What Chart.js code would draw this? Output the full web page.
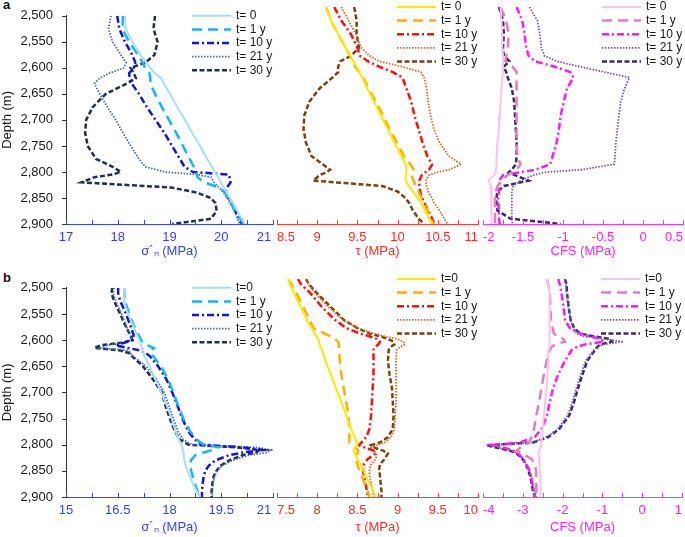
<!DOCTYPE html>
<html>
<head>
<meta charset="utf-8">
<script src="https://cdn.jsdelivr.net/npm/chart.js@4/dist/chart.umd.min.js"></script>
<style>
  html, body { margin: 0; padding: 0; background: #fff; overflow: hidden; }
  body { width: 685px; height: 537px; position: relative; }
  .panel { position: absolute; }
  .tag { position: absolute; left: 3px; font: bold 13px "Liberation Sans", Arial, sans-serif; color: #111; }
</style>
</head>
<body>
<div class="tag" style="top:-3px">a</div>
<div class="tag" style="top:270px">b</div>
<canvas id="a1" class="panel"></canvas>
<canvas id="a2" class="panel"></canvas>
<canvas id="a3" class="panel"></canvas>
<canvas id="b1" class="panel"></canvas>
<canvas id="b2" class="panel"></canvas>
<canvas id="b3" class="panel"></canvas>
<script>
// 깊이 (m)
const depthA = [2500, 2525, 2550, 2575, 2590, 2600, 2610, 2620, 2630, 2650, 2675, 2700, 2725, 2750, 2775, 2790, 2800, 2805, 2810, 2820, 2830, 2840, 2850, 2860, 2875, 2890, 2900];
const depthB = [2500, 2510, 2525, 2550, 2575, 2590, 2600, 2605, 2610, 2615, 2620, 2625, 2630, 2650, 2675, 2700, 2725, 2750, 2775, 2790, 2800, 2805, 2810, 2815, 2820, 2830, 2840, 2850, 2860, 2875, 2890, 2900];

const labelsA = ['t= 0', 't= 1 y', 't= 10 y', 't= 21 y', 't= 30 y'];
const labelsB = ['t=0', 't= 1 y', 't= 10 y', 't= 21 y', 't= 30 y'];

// a: σ'n (MPa)
const sigA0 = [18.14, 18.15, 18.28, 18.44, 18.55, 18.63, 18.71, 18.84, 18.89, 19.01, 19.15, 19.30, 19.44, 19.59, 19.73, 19.82, 19.88, 19.91, 19.94, 19.99, 20.05, 20.11, 20.16, 20.23, 20.31, 20.40, 20.46];
const sigA1 = [18.10, 18.09, 18.22, 18.39, 18.48, 18.53, 18.61, 18.63, 18.63, 18.72, 18.85, 18.99, 19.13, 19.26, 19.39, 19.47, 19.53, 19.53, 19.54, 19.67, 19.96, 20.08, 20.11, 20.18, 20.27, 20.37, 20.43];
const sigA10 = [17.99, 18.03, 18.14, 18.28, 18.34, 18.31, 18.22, 18.23, 18.27, 18.41, 18.56, 18.73, 18.90, 19.05, 19.20, 19.29, 19.45, 20.14, 20.16, 20.18, 20.11, 20.08, 20.15, 20.21, 20.27, 20.35, 20.40];
const sigA21 = [17.87, 17.82, 17.90, 18.06, 18.16, 18.12, 17.84, 17.65, 17.55, 17.65, 17.80, 17.96, 18.10, 18.25, 18.41, 18.53, 18.91, 19.54, 19.80, 19.86, 19.96, 20.05, 20.11, 20.18, 20.25, 20.32, 20.35];
const sigA30 = [18.72, 18.69, 18.77, 18.71, 18.53, 18.25, 18.31, 18.35, 18.18, 17.77, 17.52, 17.39, 17.37, 17.42, 17.58, 17.90, 18.06, 17.90, 17.55, 17.30, 19.04, 19.54, 19.80, 19.89, 19.91, 19.80, 19.05];

// a: τ (MPa)
const tauA0 = [9.11, 9.17, 9.26, 9.35, 9.41, 9.45, 9.49, 9.52, 9.56, 9.62, 9.71, 9.79, 9.88, 9.96, 10.05, 10.10, 10.11, 10.11, 10.10, 10.10, 10.14, 10.19, 10.24, 10.29, 10.34, 10.39, 10.43];
const tauA1 = [9.11, 9.17, 9.26, 9.35, 9.41, 9.44, 9.47, 9.52, 9.57, 9.64, 9.73, 9.82, 9.90, 9.99, 10.08, 10.16, 10.20, 10.19, 10.17, 10.20, 10.22, 10.26, 10.29, 10.33, 10.37, 10.41, 10.45];
const tauA10 = [9.21, 9.30, 9.42, 9.50, 9.53, 9.63, 9.77, 9.94, 10.06, 10.11, 10.17, 10.21, 10.26, 10.31, 10.37, 10.43, 10.39, 10.34, 10.30, 10.27, 10.27, 10.28, 10.30, 10.33, 10.38, 10.43, 10.46];
const tauA21 = [9.30, 9.39, 9.48, 9.55, 9.65, 9.77, 10.06, 10.29, 10.33, 10.36, 10.38, 10.41, 10.45, 10.52, 10.64, 10.79, 10.64, 10.48, 10.39, 10.35, 10.36, 10.38, 10.42, 10.45, 10.52, 10.58, 10.62];
const tauA30 = [9.46, 9.49, 9.49, 9.52, 9.42, 9.29, 9.26, 9.26, 9.19, 9.03, 8.90, 8.84, 8.83, 8.86, 8.93, 9.07, 9.16, 9.11, 9.03, 8.95, 9.81, 10.00, 10.08, 10.14, 10.19, 10.26, 10.33];

// a: CFS (MPa)
const cfsA0 = [-1.78, -1.77, -1.76, -1.76, -1.75, -1.75, -1.75, -1.75, -1.76, -1.77, -1.78, -1.79, -1.80, -1.82, -1.83, -1.83, -1.84, -1.84, -1.86, -1.93, -1.90, -1.89, -1.89, -1.89, -1.89, -1.90, -1.90];
const cfsA1 = [-1.78, -1.71, -1.68, -1.69, -1.71, -1.72, -1.63, -1.58, -1.58, -1.58, -1.58, -1.58, -1.58, -1.58, -1.57, -1.53, -1.58, -1.64, -1.70, -1.76, -1.82, -1.84, -1.85, -1.85, -1.85, -1.85, -1.85];
const cfsA10 = [-1.58, -1.51, -1.48, -1.46, -1.43, -1.35, -1.10, -0.91, -0.87, -0.95, -0.99, -1.03, -1.05, -1.08, -1.13, -1.16, -1.35, -1.55, -1.75, -1.80, -1.79, -1.80, -1.81, -1.81, -1.80, -1.80, -1.79];
const cfsA21 = [-1.42, -1.32, -1.29, -1.27, -1.23, -1.08, -0.79, -0.48, -0.17, -0.23, -0.28, -0.30, -0.32, -0.34, -0.35, -0.36, -0.78, -1.24, -1.37, -1.53, -1.62, -1.64, -1.64, -1.64, -1.64, -1.64, -1.63];
const cfsA30 = [-1.80, -1.75, -1.74, -1.75, -1.74, -1.67, -1.74, -1.71, -1.69, -1.64, -1.61, -1.60, -1.59, -1.58, -1.58, -1.59, -1.64, -1.68, -1.60, -1.43, -1.74, -1.82, -1.83, -1.83, -1.82, -1.66, -1.03];

// b: σ'n (MPa)
const sigB0 = [16.71, 16.69, 16.67, 16.80, 16.96, 17.06, 17.12, 17.15, 17.18, 17.21, 17.23, 17.25, 17.27, 17.42, 17.59, 17.76, 17.92, 18.06, 18.18, 18.27, 18.35, 18.37, 18.38, 18.40, 18.41, 18.43, 18.47, 18.53, 18.59, 18.68, 18.80, 18.89];
const sigB1 = [16.71, 16.69, 16.71, 16.83, 16.98, 17.10, 17.18, 17.23, 17.37, 17.55, 17.45, 17.47, 17.52, 17.75, 17.96, 18.11, 18.25, 18.40, 18.60, 18.79, 18.99, 19.43, 19.24, 18.99, 18.75, 18.62, 18.60, 18.63, 18.67, 18.73, 18.82, 18.89];
const sigB10 = [16.51, 16.51, 16.57, 16.74, 16.88, 16.96, 16.93, 16.69, 16.44, 16.78, 17.18, 17.32, 17.42, 17.67, 17.91, 18.08, 18.23, 18.37, 18.55, 18.73, 18.94, 20.12, 20.71, 20.12, 19.73, 19.33, 19.14, 19.04, 18.99, 18.96, 18.94, 18.94];
const sigB21 = [16.39, 16.37, 16.44, 16.61, 16.76, 16.86, 16.90, 16.69, 16.20, 16.00, 16.83, 16.86, 16.93, 17.32, 17.62, 17.85, 17.98, 18.11, 18.25, 18.40, 18.65, 20.51, 20.95, 20.80, 20.31, 19.82, 19.53, 19.38, 19.31, 19.26, 19.24, 19.24];
const sigB30 = [16.34, 16.32, 16.39, 16.57, 16.74, 16.86, 16.93, 16.59, 16.00, 15.82, 16.59, 16.83, 16.90, 17.23, 17.52, 17.78, 17.88, 18.01, 18.16, 18.30, 18.55, 19.92, 20.61, 20.51, 20.12, 19.73, 19.48, 19.36, 19.28, 19.24, 19.22, 19.22];

// b: τ (MPa)
const tauB0 = [7.64, 7.66, 7.71, 7.79, 7.87, 7.93, 7.97, 7.99, 8.01, 8.02, 8.03, 8.04, 8.06, 8.10, 8.17, 8.23, 8.30, 8.36, 8.42, 8.47, 8.49, 8.50, 8.47, 8.45, 8.47, 8.50, 8.54, 8.57, 8.60, 8.65, 8.70, 8.73];
const tauB1 = [7.64, 7.68, 7.74, 7.82, 7.91, 7.95, 8.09, 8.16, 8.22, 8.26, 8.27, 8.27, 8.27, 8.28, 8.30, 8.33, 8.36, 8.39, 8.40, 8.40, 8.40, 8.43, 8.48, 8.51, 8.50, 8.48, 8.50, 8.52, 8.55, 8.59, 8.63, 8.65];
const tauB10 = [7.76, 7.80, 7.91, 8.05, 8.22, 8.36, 8.53, 8.65, 8.74, 8.78, 8.76, 8.72, 8.70, 8.70, 8.70, 8.69, 8.68, 8.67, 8.65, 8.61, 8.55, 8.52, 8.61, 8.70, 8.73, 8.63, 8.58, 8.57, 8.58, 8.60, 8.62, 8.63];
const tauB21 = [7.87, 7.89, 7.97, 8.13, 8.32, 8.50, 8.70, 8.84, 8.99, 9.07, 9.09, 9.03, 8.99, 8.98, 8.98, 8.98, 8.98, 8.97, 8.96, 8.92, 8.84, 8.74, 8.67, 8.70, 8.74, 8.73, 8.67, 8.65, 8.65, 8.67, 8.69, 8.70];
const tauB30 = [7.86, 7.90, 7.99, 8.16, 8.33, 8.50, 8.65, 8.78, 8.88, 8.95, 8.96, 8.91, 8.89, 8.88, 8.90, 8.93, 8.94, 8.95, 8.94, 8.88, 8.78, 8.67, 8.72, 8.82, 8.88, 8.84, 8.78, 8.77, 8.78, 8.79, 8.80, 8.80];

// b: CFS (MPa)
const cfsB0 = [-2.39, -2.36, -2.33, -2.32, -2.32, -2.32, -2.32, -2.32, -2.33, -2.33, -2.34, -2.34, -2.35, -2.36, -2.38, -2.40, -2.44, -2.47, -2.50, -2.52, -2.53, -2.54, -2.56, -2.59, -2.61, -2.59, -2.58, -2.57, -2.56, -2.56, -2.55, -2.55];
const cfsB1 = [-2.39, -2.36, -2.32, -2.31, -2.29, -2.25, -2.22, -2.13, -1.98, -1.94, -2.19, -2.28, -2.32, -2.40, -2.47, -2.53, -2.59, -2.66, -2.72, -2.78, -2.84, -2.95, -3.08, -3.16, -3.03, -2.78, -2.70, -2.67, -2.66, -2.66, -2.66, -2.66];
const cfsB10 = [-2.11, -2.07, -2.03, -1.98, -1.94, -1.82, -1.56, -1.31, -1.06, -0.97, -1.44, -1.65, -1.77, -1.94, -2.11, -2.24, -2.32, -2.39, -2.53, -2.70, -3.08, -3.75, -3.45, -3.24, -3.12, -2.99, -2.91, -2.84, -2.80, -2.76, -2.72, -2.70];
const cfsB21 = [-1.94, -1.92, -1.90, -1.86, -1.80, -1.73, -1.65, -1.48, -0.97, -0.47, -0.97, -1.14, -1.21, -1.42, -1.54, -1.65, -1.75, -1.87, -2.12, -2.40, -2.78, -3.87, -3.58, -3.29, -3.12, -2.99, -2.91, -2.84, -2.80, -2.76, -2.70, -2.66];
const cfsB30 = [-1.94, -1.90, -1.89, -1.85, -1.80, -1.71, -1.56, -1.23, -0.81, -0.76, -1.06, -1.13, -1.18, -1.38, -1.50, -1.61, -1.71, -1.83, -2.08, -2.36, -2.74, -3.92, -3.62, -3.33, -3.16, -3.01, -2.92, -2.87, -2.82, -2.78, -2.74, -2.70];

// 색상과 선 스타일
const sigColors = ['#a9def5', '#1db4ee', '#1414e0', '#4a6aa8', '#1f2f52'];
const tauColors = ['#ffe800', '#ffb000', '#ff1010', '#d2691e', '#7a4210'];
const cfsColors = ['#f9c4ee', '#e07fb8', '#ff1aff', '#7b52b3', '#3b2a68'];
const dashes = [[], [10, 6], [7, 3, 2, 3], [1.5, 1.5], [5, 2.5]];
const widths = [2, 2.5, 2.5, 1.8, 2.5];

const FONT = '"Liberation Sans", Arial, Helvetica, sans-serif';
Chart.defaults.font.family = FONT;
Chart.defaults.font.size = 13;

// 눈금(안쪽)과 범례를 직접 그리는 플러그인
const panelDecor = {
    id: 'panelDecor',
    afterDraw(chart, args, opts) {
        const { ctx, chartArea: a, scales: { x, y } } = chart;
        ctx.save();
        ctx.lineWidth = 1;
        ctx.strokeStyle = opts.axisColor;
        ctx.beginPath();
        for (let v = x.min; v <= x.max + 1e-9; v += opts.minor) {
            const px = Math.round(x.getPixelForValue(v)) + 0.5;
            ctx.moveTo(px, a.bottom);
            ctx.lineTo(px, a.bottom - 4);
        }
        ctx.stroke();

        if (opts.yTicks) {
            ctx.strokeStyle = '#333';
            ctx.beginPath();
            for (let v = 2500; v <= 2900; v += 50) {
                const py = Math.round(y.getPixelForValue(v)) + 0.5;
                ctx.moveTo(a.left - 4, py);
                ctx.lineTo(a.left, py);
            }
            ctx.stroke();
        }

        // 범례
        ctx.font = '12px ' + FONT;
        ctx.textBaseline = 'middle';
        ctx.fillStyle = '#1a1a1a';
        chart.data.datasets.forEach((ds, i) => {
            const ly = a.top + i * 13.6;
            ctx.save();
            ctx.strokeStyle = ds.borderColor;
            ctx.lineWidth = ds.borderWidth;
            ctx.setLineDash(ds.borderDash);
            ctx.beginPath();
            ctx.moveTo(a.right - 81, ly);
            ctx.lineTo(a.right - 42, ly);
            ctx.stroke();
            ctx.restore();
            ctx.fillText(ds.label, a.right - 37, ly);
        });
        ctx.restore();
    }
};

const fmt = v => String(Math.round(v * 100) / 100);

function makePanel(id, p) {
    const padT = 12, padL = 16, padR = 26;
    const canvas = document.getElementById(id);
    const left = p.showY ? 0 : p.L - padL;
    const width = p.showY ? p.R + padR : (p.R - p.L) + padL + padR;
    const top = p.T - padT;
    const height = (p.B - p.T) + padT + p.xh;
    canvas.width = width;
    canvas.height = height;
    canvas.style.left = left + 'px';
    canvas.style.top = top + 'px';
    canvas.style.width = width + 'px';
    canvas.style.height = height + 'px';

    const datasets = p.series.map((vals, i) => ({
        label: p.labels[i],
        data: p.depth.map((d, j) => ({ x: vals[j], y: d })),
        showLine: true,
        pointRadius: 0,
        borderColor: p.colors[i],
        backgroundColor: p.colors[i],
        borderWidth: widths[i],
        borderDash: dashes[i],
        tension: 0
    }));

    // 왼쪽 패널: 첫 눈금은 가운데, 마지막 눈금은 축 끝에 붙임
    const tickLabel = p.showY
        ? (v, i, ticks) => (i === ticks.length - 1 ? fmt(v) + '     ' : fmt(v))
        : fmt;

    return new Chart(canvas, {
        type: 'scatter',
        data: { datasets },
        options: {
            responsive: false,
            animation: false,
            events: [],
            layout: { padding: { top: padT, left: p.showY ? 0 : padL, right: padR, bottom: 0 } },
            plugins: {
                legend: { display: false },
                tooltip: { enabled: false },
                panelDecor: { axisColor: p.axisColor, minor: p.minor, yTicks: p.showY }
            },
            scales: {
                x: {
                    type: 'linear',
                    position: 'bottom',
                    min: p.min,
                    max: p.max,
                    afterFit: s => { s.height = p.xh; },
                    grid: { display: false, drawTicks: false },
                    border: { display: true, color: p.axisColor, width: 1 },
                    ticks: {
                        stepSize: p.step, color: p.textColor, padding: 6, autoSkip: false, maxRotation: 0,
                        align: p.showY ? 'center' : 'inner', callback: tickLabel
                    },
                    title: { display: true, text: p.title, color: p.textColor, padding: 0, font: { size: 13 } }
                },
                y: {
                    type: 'linear',
                    display: p.showY,
                    min: 2500,
                    max: 2900,
                    reverse: true,
                    afterFit: s => { s.width = p.showY ? p.L : 0; },
                    grid: { display: false, drawTicks: false },
                    border: { display: true, color: '#333', width: 1 },
                    ticks: { stepSize: 50, color: '#1a1a1a', padding: 13, autoSkip: false, callback: v => v.toLocaleString('en-US') },
                    title: { display: true, text: 'Depth (m)', color: '#1a1a1a', padding: 0, font: { size: 13 } }
                }
            }
        },
        plugins: [panelDecor]
    });
}

const SIG = { axisColor: '#3344ff', textColor: '#3344ff', title: 'σ´ₙ (MPa)', colors: sigColors };
const TAU = { axisColor: '#ff3b3b', textColor: '#ff2a2a', title: 'τ (MPa)', colors: tauColors };
const CFS = { axisColor: '#ff33ff', textColor: '#ff22ff', title: 'CFS (MPa)', colors: cfsColors };
const rowA = { T: 7, B: 224, xh: 35, depth: depthA, labels: labelsA };
const rowB = { T: 279, B: 497, xh: 38, depth: depthB, labels: labelsB };

makePanel('a1', { ...rowA, ...SIG, L: 66, R: 273, showY: true, min: 17, max: 21, step: 1, minor: 0.5, series: [sigA0, sigA1, sigA10, sigA21, sigA30] });
makePanel('a2', { ...rowA, ...TAU, L: 277, R: 478, showY: false, min: 8.5, max: 11, step: 0.5, minor: 0.25, series: [tauA0, tauA1, tauA10, tauA21, tauA30] });
makePanel('a3', { ...rowA, ...CFS, L: 483, R: 683, showY: false, min: -2, max: 0.5, step: 0.5, minor: 0.25, series: [cfsA0, cfsA1, cfsA10, cfsA21, cfsA30] });
makePanel('b1', { ...rowB, ...SIG, L: 66, R: 273, showY: true, min: 15, max: 21, step: 1.5, minor: 0.75, series: [sigB0, sigB1, sigB10, sigB21, sigB30] });
makePanel('b2', { ...rowB, ...TAU, L: 277, R: 478, showY: false, min: 7.5, max: 10, step: 0.5, minor: 0.25, series: [tauB0, tauB1, tauB10, tauB21, tauB30] });
makePanel('b3', { ...rowB, ...CFS, L: 483, R: 682, showY: false, min: -4, max: 1, step: 1, minor: 0.5, series: [cfsB0, cfsB1, cfsB10, cfsB21, cfsB30] });
</script>
</body>
</html>
